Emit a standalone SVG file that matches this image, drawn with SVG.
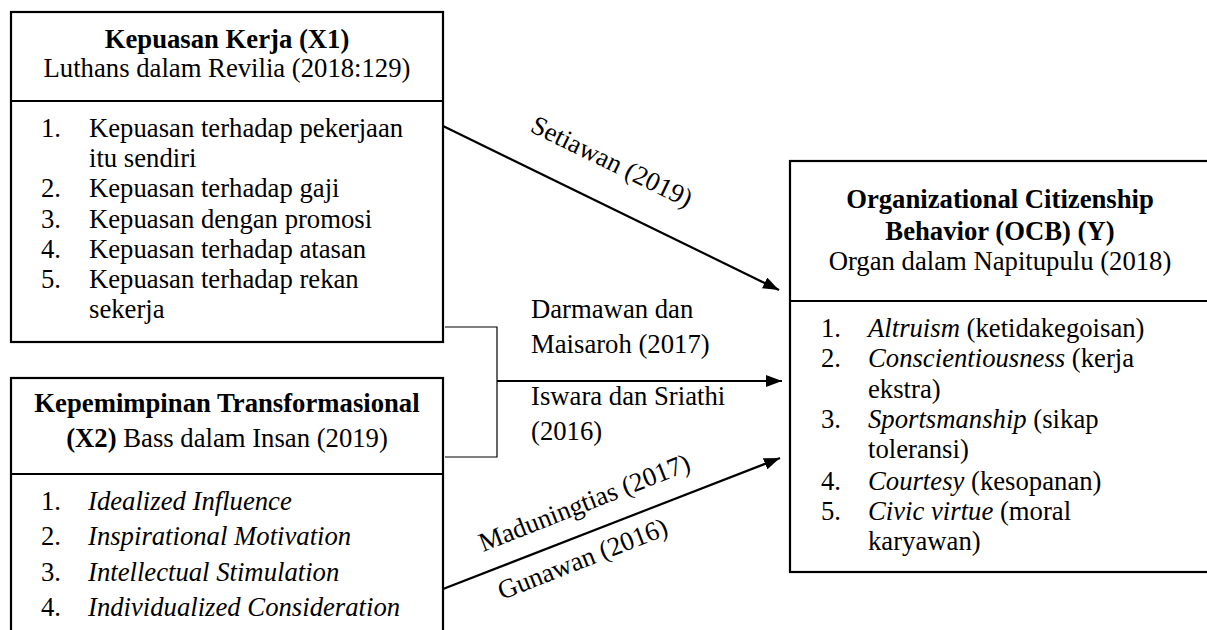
<svg xmlns="http://www.w3.org/2000/svg" width="1207" height="630" viewBox="0 0 1207 630">
<defs>
<style>
text{font-size:26.7px;fill:#000}
.b{font-weight:bold}
.i{font-style:italic}
.c{text-anchor:middle}
.box{fill:#fff;stroke:#000;stroke-width:2.2}
.div{stroke:#000;stroke-width:2.2}
.arr{stroke:#000;stroke-width:2.2;fill:none}
.thin{stroke:#000;stroke-width:1.2;fill:none}
</style>
<marker id="ah" viewBox="0 0 16 12" refX="16" refY="6" markerWidth="16" markerHeight="12" markerUnits="userSpaceOnUse" orient="auto">
<path d="M0,0 L16,6 L0,12 Z" fill="#000"/>
</marker>
</defs>
<rect width="1207" height="630" fill="#fff"/>
<g font-family="Liberation Serif, Times New Roman, serif">
<g id="x1">
<rect class="box" x="11" y="12" width="432" height="330"/>
<line class="div" x1="11" y1="101" x2="443" y2="101"/>
<text class="b c" x="227" y="48">Kepuasan Kerja (X1)</text>
<text class="c" x="227" y="77">Luthans dalam Revilia (2018:129)</text>
<text x="41" y="137">1.</text><text x="89" y="137">Kepuasan terhadap pekerjaan</text>
<text x="89" y="167">itu sendiri</text>
<text x="41" y="197">2.</text><text x="89" y="197">Kepuasan terhadap gaji</text>
<text x="41" y="228">3.</text><text x="89" y="228">Kepuasan dengan promosi</text>
<text x="41" y="258">4.</text><text x="89" y="258">Kepuasan terhadap atasan</text>
<text x="41" y="288">5.</text><text x="89" y="288">Kepuasan terhadap rekan</text>
<text x="89" y="318">sekerja</text>
</g>

<g id="x2">
<rect class="box" x="11" y="378" width="432" height="262"/>
<line class="div" x1="11" y1="474" x2="443" y2="474"/>
<text class="b c" x="227" y="412">Kepemimpinan Transformasional</text>
<text class="c" x="227" y="447"><tspan class="b">(X2)</tspan> Bass dalam Insan (2019)</text>
<text x="41" y="510">1.</text><text class="i" x="88" y="510">Idealized Influence</text>
<text x="41" y="545">2.</text><text class="i" x="88" y="545">Inspirational Motivation</text>
<text x="41" y="581">3.</text><text class="i" x="88" y="581">Intellectual Stimulation</text>
<text x="41" y="616">4.</text><text class="i" x="88" y="616">Individualized Consideration</text>
</g>

<g id="y">
<rect class="box" x="790" y="161" width="425" height="411"/>
<line class="div" x1="790" y1="301" x2="1215" y2="301"/>
<text class="b c" x="1000" y="208">Organizational Citizenship</text>
<text class="b c" x="1000" y="240">Behavior (OCB) (Y)</text>
<text class="c" x="1000" y="270">Organ dalam Napitupulu (2018)</text>
<text x="821" y="337">1.</text><text x="868" y="337"><tspan class="i">Altruism</tspan> (ketidakegoisan)</text>
<text x="821" y="367">2.</text><text x="868" y="367"><tspan class="i">Conscientiousness</tspan> (kerja</text>
<text x="868" y="398">ekstra)</text>
<text x="821" y="428">3.</text><text x="868" y="428"><tspan class="i">Sportsmanship</tspan> (sikap</text>
<text x="868" y="458">toleransi)</text>
<text x="821" y="490">4.</text><text x="868" y="490"><tspan class="i">Courtesy</tspan> (kesopanan)</text>
<text x="821" y="520">5.</text><text x="868" y="520"><tspan class="i">Civic virtue</tspan> (moral</text>
<text x="868" y="550">karyawan)</text>
</g>

<g id="connectors">
<line class="arr" x1="443" y1="126" x2="779" y2="290" marker-end="url(#ah)"/>
<polyline class="thin" points="445,327 497,327 497,457 445,457"/>
<line class="arr" x1="497" y1="381" x2="782" y2="381" marker-end="url(#ah)"/>
<line class="arr" x1="443" y1="589" x2="780" y2="458" marker-end="url(#ah)"/>
<text transform="translate(529,131) rotate(26)">Setiawan (2019)</text>
<text x="531" y="318">Darmawan dan</text>
<text x="531" y="353">Maisaroh (2017)</text>
<text x="531" y="405">Iswara dan Sriathi</text>
<text x="531" y="440">(2016)</text>
<text transform="translate(483,552) rotate(-21.5)">Maduningtias (2017)</text>
<text transform="translate(502,600) rotate(-21.5)">Gunawan (2016)</text>
</g>
</g>
</svg>
